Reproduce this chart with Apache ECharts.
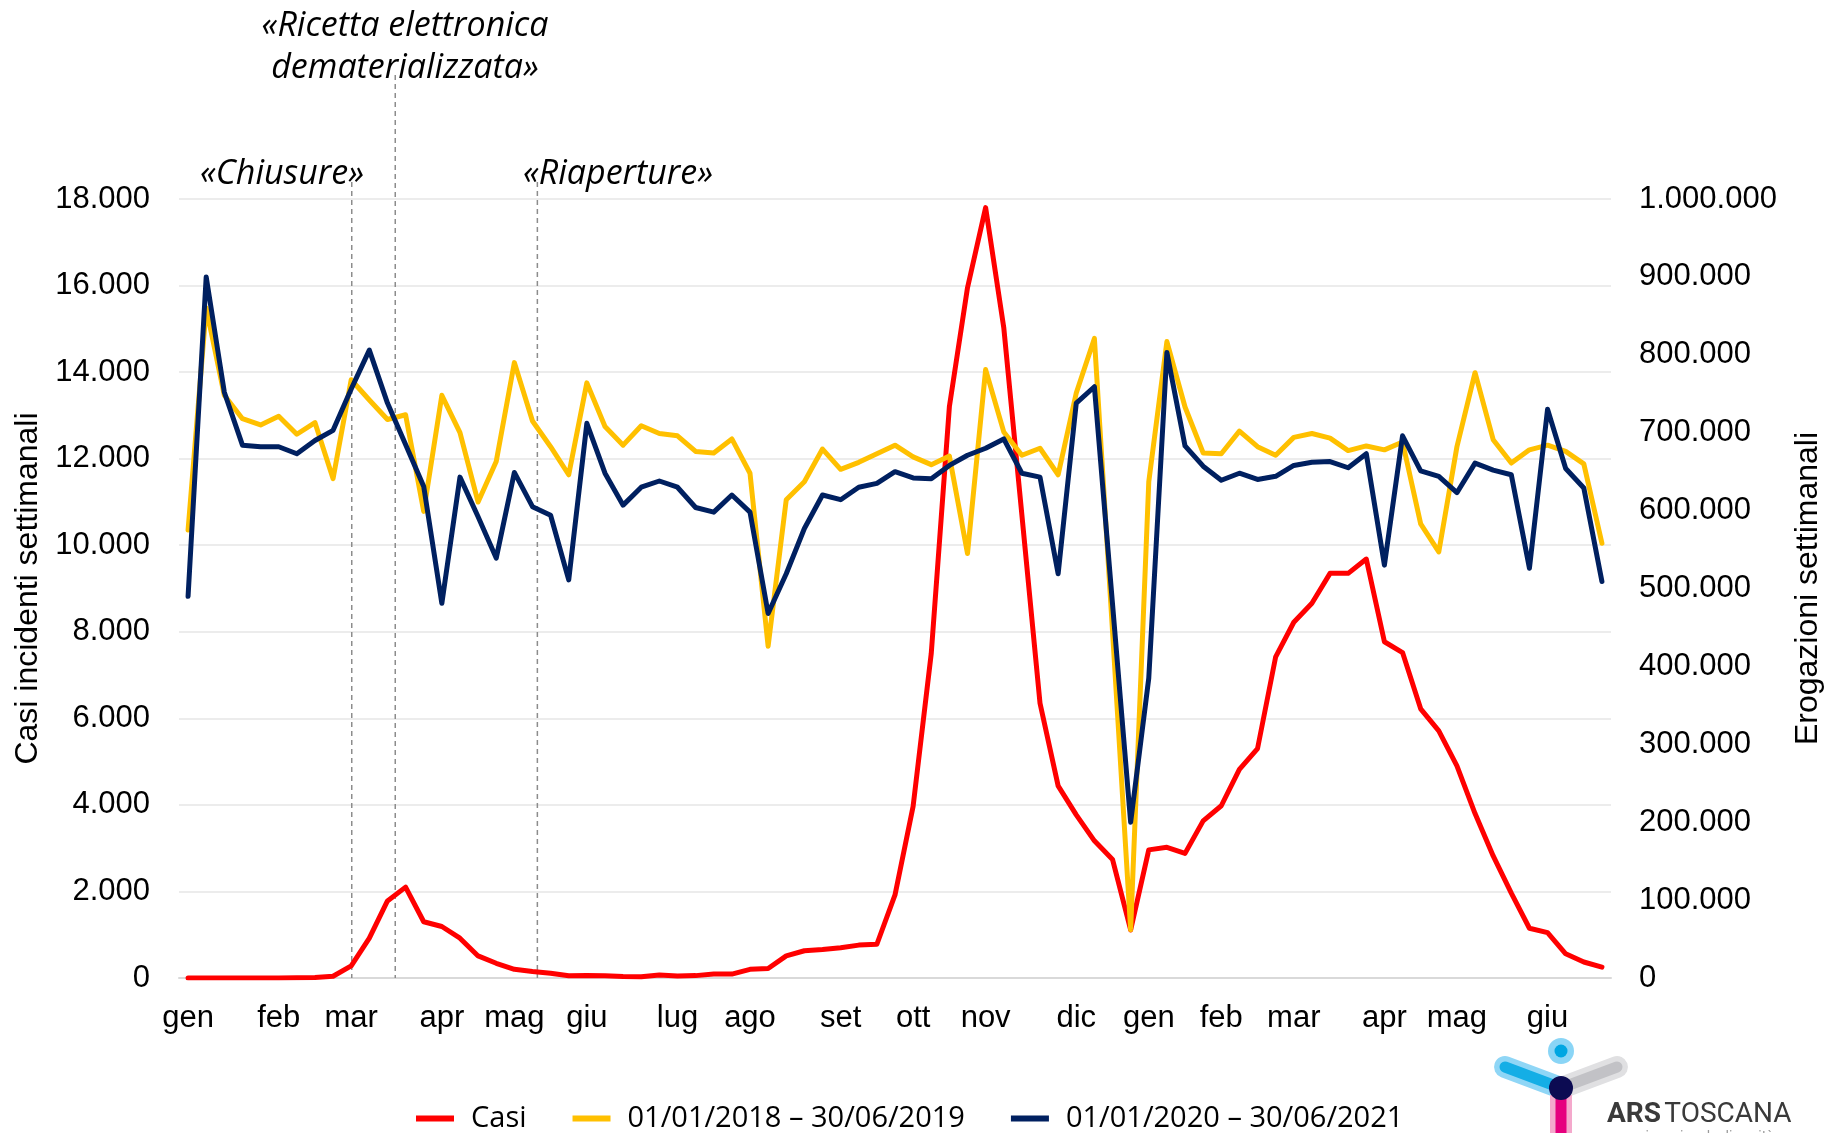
<!DOCTYPE html>
<html><head><meta charset="utf-8">
<script src="https://cdn.jsdelivr.net/npm/echarts@6/dist/echarts.min.js"></script>
<style>html,body{margin:0;padding:0;background:#fff}#c{width:1835px;height:1133px}</style>
</head><body><div id="c"></div>
<script>
// Weekly categories (79 weeks, Jan 2020 - Jun 2021); month name on the first week of month
const weekLabels = [
  'gen','','','','','feb','','','','mar','','','','','apr','','','','mag','','','','giu','','','','',
  'lug','','','','ago','','','','','set','','','','ott','','','','nov','','','','','dic','','','',
  'gen','','','','feb','','','','mar','','','','','apr','','','','mag','','','','','giu','','',''
];
// Casi incidenti settimanali (left axis)
const casi = [
  0,0,0,0,0,0,5,10,40,280,
  920,1780,2100,1300,1190,920,510,340,200,150,
  110,50,55,50,35,30,70,45,55,90,
  90,200,220,510,630,660,700,760,780,1920,
  3970,7500,13200,15950,17800,15030,10700,6350,4440,3770,
  3170,2740,1110,2960,3020,2880,3630,3980,4820,5300,
  7420,8220,8660,9350,9350,9680,7770,7520,6220,5710,
  4900,3800,2820,1960,1150,1050,560,370,250
];
// Erogazioni settimanali 01/01/2018 - 30/06/2019 (right axis)
const erog2018 = [
  575000,860000,748000,718000,710000,721000,698000,713000,641000,768000,
  742000,717000,723000,599000,748000,700000,611000,663000,790000,715000,
  682000,646000,764000,708000,684000,709000,699000,696000,676000,674000,
  692000,648000,426000,614000,637000,679000,653000,662000,673000,684000,
  669000,659000,670000,545000,781000,701000,671000,680000,646000,751000,
  821000,445000,62000,637000,817000,733000,674000,673000,702000,682000,
  671000,694000,699000,693000,677000,683000,678000,688000,583000,547000,
  682000,777000,691000,661000,678000,684000,676000,660000,558000
];
// Erogazioni settimanali 01/01/2020 - 30/06/2021 (right axis)
const erog2020 = [
  490000,900000,752000,684000,682000,682000,673000,690000,703000,756000,
  806000,738000,685000,631000,481000,643000,592000,539000,649000,605000,
  594000,511000,712000,648000,607000,630000,638000,630000,604000,598000,
  620000,598000,468000,519000,577000,620000,614000,630000,635000,650000,
  642000,641000,658000,671000,680000,692000,648000,643000,519000,738000,
  759000,480000,200000,385000,803000,683000,657000,639000,648000,640000,
  644000,658000,662000,663000,655000,673000,530000,696000,651000,644000,
  623000,661000,652000,646000,526000,730000,654000,629000,509000
];
const seriesNames = ['Casi', '01/01/2018 \u2013 30/06/2019', '01/01/2020 \u2013 30/06/2021'];
const seriesColors = ['#ff0000', '#ffc000', '#002060'];
const leftAxis = { min: 0, max: 18000, interval: 2000, name: 'Casi incidenti settimanali' };
const rightAxis = { min: 0, max: 1000000, interval: 100000, name: 'Erogazioni settimanali' };
// Event annotations: position in week units (fractional)
const events = [
  { pos: 9.03, top: 182 },
  { pos: 11.43, top: 75 },
  { pos: 19.27, top: 182 }
];

const fmt = v => String(v).replace(/\B(?=(\d{3})+(?!\d))/g, '.');
const FONT = '"Liberation Sans", Arial, sans-serif';
const chart = echarts.init(document.getElementById('c'), null, { renderer: 'canvas' });

const mkSeries = (i, data, yIdx) => ({
  name: seriesNames[i], type: 'line', data, yAxisIndex: yIdx,
  symbol: 'none', smooth: false, z: 2 + i,
  color: seriesColors[i],
  lineStyle: { color: seriesColors[i], width: 5, join: 'round', cap: 'round' },
  itemStyle: { color: seriesColors[i] }
});

chart.setOption({
  animation: false,
  backgroundColor: '#fff',
  textStyle: { fontFamily: FONT },
  grid: { left: 179, right: 224, top: 199, bottom: 155, containLabel: false, outerBoundsMode: 'none' },
  legend: {
    data: seriesNames, top: 1099, left: 411,
    icon: 'rect', itemWidth: 38, itemHeight: 6, itemGap: 46,
    textStyle: { fontSize: 29, color: '#000', fontFamily: '"Open Sans", sans-serif', padding: [0, 0, 0, 12] }
  },
  xAxis: [{
    type: 'category', data: weekLabels, boundaryGap: true,
    axisTick: { show: false },
    axisLine: { lineStyle: { color: '#d9d9d9', width: 2 } },
    axisLabel: { interval: 0, fontSize: 31, color: '#000', margin: 25, fontFamily: FONT },
    splitLine: { show: false }
  }],
  yAxis: [{
    type: 'value', position: 'left', min: leftAxis.min, max: leftAxis.max, interval: leftAxis.interval,
    name: leftAxis.name, nameLocation: 'middle', nameRotate: 90, nameGap: 135,
    nameTextStyle: { fontSize: 32, color: '#000', fontFamily: FONT },
    axisLine: { show: false }, axisTick: { show: false },
    axisLabel: { formatter: fmt, fontSize: 31, color: '#000', margin: 29, fontFamily: FONT },
    splitLine: { lineStyle: { color: '#ececec', width: 2 } }
  }, {
    type: 'value', position: 'right', min: rightAxis.min, max: rightAxis.max, interval: rightAxis.interval,
    name: rightAxis.name, nameLocation: 'middle', nameRotate: 90, nameGap: 181,
    nameTextStyle: { fontSize: 32, color: '#000', fontFamily: FONT },
    axisLine: { show: false }, axisTick: { show: false },
    axisLabel: { formatter: fmt, fontSize: 31, color: '#000', margin: 28, fontFamily: FONT },
    splitLine: { show: false }
  }],
  series: [
    mkSeries(0, casi, 0),
    mkSeries(1, erog2018, 1),
    mkSeries(2, erog2020, 1)
  ]
});

// Annotations: dashed event lines located through the category axis scale
const catPx = i => chart.convertToPixel({ xAxisIndex: 0 }, i);
const evX = p => { const f = Math.floor(p); const a = catPx(f), b = catPx(f + 1); return a + (b - a) * (p - f); };
const yBase = chart.convertToPixel({ yAxisIndex: 0 }, 0);
const ITAL = 'italic 34px "Open Sans", sans-serif';
const graphics = events.map(e => ({
  type: 'line', silent: true, z: 1,
  shape: { x1: evX(e.pos), y1: e.top, x2: evX(e.pos), y2: yBase },
  style: { stroke: '#8c8c8c', lineWidth: 1.5, lineDash: [5, 4] }
}));
const texts = [
  { t: '\u00abRicetta elettronica', x: 405, y: 26 },
  { t: 'dematerializzata\u00bb', x: 405, y: 68 },
  { t: '\u00abChiusure\u00bb', x: 282, y: 174 },
  { t: '\u00abRiaperture\u00bb', x: 618, y: 174 }
];
texts.forEach(o => graphics.push({
  type: 'text', silent: true, z: 10,
  style: { text: o.t, x: o.x, y: o.y, font: ITAL, fill: '#000', align: 'center', verticalAlign: 'middle' }
}));
// Logo (ARS Toscana)
graphics.push(
  { type: 'line', shape: { x1: 1505, y1: 1067, x2: 1561, y2: 1088 }, style: { stroke: '#8fd6f6', lineWidth: 22, lineCap: 'round' } },
  { type: 'line', shape: { x1: 1505, y1: 1067, x2: 1561, y2: 1088 }, style: { stroke: '#14aee6', lineWidth: 11, lineCap: 'round' } },
  { type: 'line', shape: { x1: 1561, y1: 1088, x2: 1617, y2: 1067 }, style: { stroke: '#e0e0e2', lineWidth: 22, lineCap: 'round' } },
  { type: 'line', shape: { x1: 1561, y1: 1088, x2: 1617, y2: 1067 }, style: { stroke: '#c2c2c6', lineWidth: 11, lineCap: 'round' } },
  { type: 'line', shape: { x1: 1561, y1: 1095, x2: 1561, y2: 1150 }, style: { stroke: '#f4a9cc', lineWidth: 22 } },
  { type: 'line', shape: { x1: 1561, y1: 1095, x2: 1561, y2: 1150 }, style: { stroke: '#e6007e', lineWidth: 11 } },
  { type: 'circle', shape: { cx: 1561, cy: 1088, r: 12 }, style: { fill: '#0c0b52' } },
  { type: 'circle', shape: { cx: 1561, cy: 1051, r: 13 }, style: { fill: '#8ad5f6' } },
  { type: 'circle', shape: { cx: 1561, cy: 1051, r: 6.5 }, style: { fill: '#00a6e2' } },
  { type: 'text', style: { text: '{a|ARS} {b|TOSCANA}', x: 1607, y: 1129, verticalAlign: 'bottom',
      rich: { a: { font: 'bold 28px Roboto, sans-serif', fill: '#3a3a3a' }, b: { font: '28px Roboto, sans-serif', fill: '#3a3a3a' } } } },
  { type: 'text', style: { text: 'agenzia regionale di sanit\u00e0', x: 1608, y: 1130, font: '14px Roboto, sans-serif', fill: '#9a9a9a', verticalAlign: 'top' } }
);
chart.setOption({ graphic: graphics });
</script>
</body></html>
